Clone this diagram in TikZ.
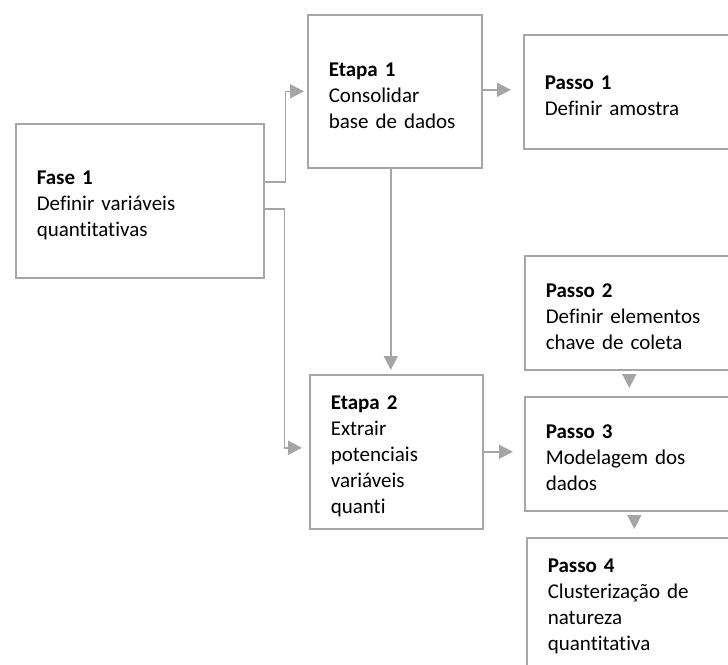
\documentclass[tikz,border=0pt]{standalone}
\usepackage{fontspec}
\setmainfont{Carlito}[Ligatures={NoCommon}]
\usetikzlibrary{arrows.meta}
\definecolor{boxgray}{RGB}{166,166,166}
\definecolor{arrgray}{RGB}{165,165,165}
\begin{document}
\begin{tikzpicture}[x=1pt,y=-1pt,
  box/.style={draw=boxgray, line width=1.6pt, fill=white, rectangle, inner xsep=21pt, inner ysep=0pt, align=left, font=\fontsize{21}{26}\selectfont, anchor=north west, execute at begin node={\rule{0pt}{22pt}}},
  conn/.style={draw=arrgray, line width=1.6pt, -{Triangle[length=14pt,width=14pt]}}]
\useasboundingbox (0,0) rectangle (728,664);
\clip (0,0) rectangle (728,664);
\node[box, minimum height=154pt, text width=206pt] (fase) at (15,123) {\textbf{Fase 1}\\Definir variáveis\\quantitativas};
\node[box, minimum height=153pt, text width=132pt] (etapa1) at (307,14) {\textbf{Etapa 1}\\Consolidar\\base de dados};
\node[box, minimum height=114pt, text width=180pt] (passo1) at (523,34) {\textbf{Passo 1}\\Definir amostra};
\node[box, minimum height=154pt, text width=131pt] (etapa2) at (309,374) {\textbf{Etapa 2}\\Extrair\\potenciais\\variáveis\\quanti};
\node[box, minimum height=114pt, text width=179pt] (passo2) at (524,255) {\textbf{Passo 2}\\Definir elementos\\chave de coleta};
\node[box, minimum height=114pt, text width=179pt] (passo3) at (524,396) {\textbf{Passo 3}\\Modelagem dos\\dados};
\node[box, minimum height=129pt, text width=177pt] (passo4) at (526,537) {\textbf{Passo 4}\\Clusterização de\\natureza\\quantitativa};

\draw[conn, shorten >=3pt] ([yshift=19pt]fase.east) -- ++(21pt,0) |- (etapa1.west);
\draw[conn, shorten >=7pt] ([yshift=-8pt]fase.east) -- ++(20pt,0) |- ([yshift=4pt]etapa2.west);
\draw[conn, shorten >=4pt] ([xshift=-4pt]etapa1.south) -- ([xshift=-4pt]etapa1.south |- etapa2.north);
\draw[conn, shorten >=12pt] ([yshift=1.5pt]etapa1.east) -- ([yshift=1.5pt]etapa1.east -| passo1.west);
\draw[conn, shorten >=11pt] (etapa2.east) -- (etapa2.east -| passo3.west);
\draw[conn, shorten <=4pt, shorten >=8pt] ([xshift=-6pt]passo2.south) -- ([xshift=-6pt]passo2.south |- passo3.north);
\draw[conn, shorten <=4pt, shorten >=8pt] ([xshift=-1pt]passo3.south) -- ([xshift=-1pt]passo3.south |- passo4.north);
\end{tikzpicture}
\end{document}
